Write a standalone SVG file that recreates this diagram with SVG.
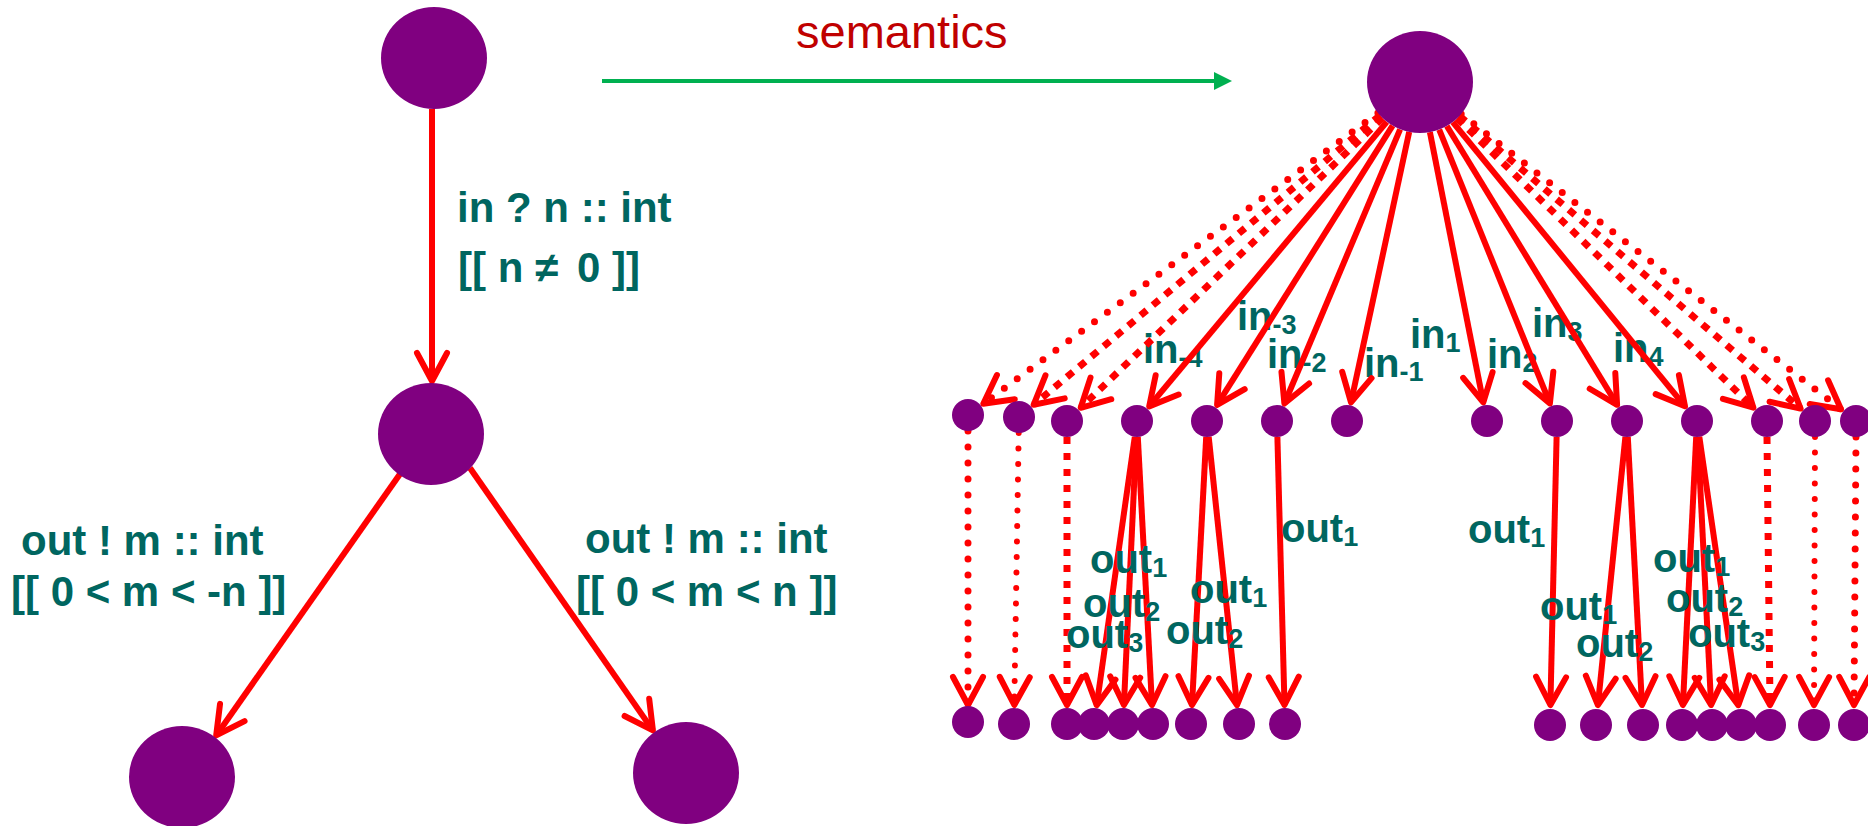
<svg xmlns="http://www.w3.org/2000/svg" width="1868" height="826" viewBox="0 0 1868 826">
<style>
.n{fill:#800080}
.e{stroke:#FF0000;stroke-width:6;fill:none;marker-end:url(#ah)}
.dot{stroke-dasharray:0 16;stroke-linecap:round;stroke-width:7}
.dot2{stroke-dasharray:0 15.5;stroke-linecap:round;stroke-width:6}
.dia{stroke-dasharray:8 8;stroke-width:7}
.sq{stroke-dasharray:7 9;stroke-width:7}
.lbl{font-family:"Liberation Sans",Arial,sans-serif;font-weight:bold;font-size:40px;fill:#006660}
.big{font-size:42px}
.sub{font-size:27px}
.sem{font-family:"Liberation Sans",Arial,sans-serif;font-size:47px;fill:#C00000}
</style>
<defs>
<marker id="ah" viewBox="-35 -20 40 40" refX="0" refY="0" markerWidth="40" markerHeight="40" markerUnits="userSpaceOnUse" orient="auto">
<path d="M-28,-15 L0,0 L-28,15" fill="none" stroke="#FF0000" stroke-width="6" stroke-linecap="round" stroke-linejoin="round"/>
</marker>
</defs>
<rect width="1868" height="826" fill="#FFFFFF"/>

<g id="semantics-arrow">
<line x1="602" y1="81" x2="1216" y2="81" stroke="#00B050" stroke-width="4"/>
<polygon points="1214,72 1232,81 1214,90" fill="#00B050"/>
<text class="sem" x="796" y="48">semantics</text>
</g>

<g id="in-labels">
<text class="lbl" x="1143" y="363">in<tspan class="sub" dy="4">-4</tspan></text>
<text class="lbl" x="1237" y="330">in<tspan class="sub" dy="4">-3</tspan></text>
<text class="lbl" x="1267" y="368">in<tspan class="sub" dy="4">-2</tspan></text>
<text class="lbl" x="1364" y="377">in<tspan class="sub" dy="4">-1</tspan></text>
<text class="lbl" x="1410" y="348">in<tspan class="sub" dy="4">1</tspan></text>
<text class="lbl" x="1487" y="368">in<tspan class="sub" dy="4">2</tspan></text>
<text class="lbl" x="1532" y="337">in<tspan class="sub" dy="4">3</tspan></text>
<text class="lbl" x="1613" y="362">in<tspan class="sub" dy="4">4</tspan></text>
</g>

<g id="connectors">
<line class="e" x1="432" y1="109" x2="432" y2="381"/>
<line class="e" x1="400" y1="474" x2="216.2" y2="735.4"/>
<line class="e" x1="470" y1="468" x2="652.9" y2="730.4"/>

<line class="e dot" x1="1377.9" y1="113" x2="983.3" y2="403.7"/>
<line class="e dia" x1="1380" y1="115.4" x2="1033.6" y2="404.8"/>
<line class="e dia" x1="1382.5" y1="118" x2="1080.7" y2="407.8"/>
<line class="e" x1="1386.8" y1="121.8" x2="1149.2" y2="406.4"/>
<line class="e" x1="1392.6" y1="125.6" x2="1217.1" y2="404.9"/>
<line class="e" x1="1400.1" y1="129.3" x2="1284.4" y2="403.5"/>
<line class="e" x1="1409.2" y1="131.9" x2="1351" y2="402.4"/>
<line class="e" x1="1429.9" y1="132.1" x2="1483.3" y2="402.4"/>
<line class="e" x1="1439.2" y1="129.6" x2="1549.9" y2="403.4"/>
<line class="e" x1="1446.8" y1="126" x2="1617.1" y2="404.8"/>
<line class="e" x1="1452.8" y1="122.1" x2="1685" y2="406.3"/>
<line class="e dia" x1="1457.2" y1="118.3" x2="1753.4" y2="407.7"/>
<line class="e dia" x1="1459.5" y1="115.9" x2="1800.6" y2="408.6"/>
<line class="e dot" x1="1461.2" y1="114" x2="1841" y2="409.3"/>

<line class="e dot" x1="968" y1="431" x2="968" y2="705"/>
<line class="e dot2" x1="1018.7" y1="433" x2="1014.3" y2="705"/>
<line class="e sq" x1="1067" y1="437" x2="1067" y2="705"/>
<line class="e sq" x1="1767" y1="437" x2="1770" y2="705"/>
<line class="e dot2" x1="1815" y1="437" x2="1814" y2="705"/>
<line class="e dot" x1="1856" y1="437" x2="1854" y2="705"/>

<line class="e" x1="1134.8" y1="436.8" x2="1096.7" y2="705.2"/>
<line class="e" x1="1136.3" y1="437" x2="1123.9" y2="705"/>
<line class="e" x1="1137.8" y1="437" x2="1152" y2="705"/>
<line class="e" x1="1206.2" y1="437" x2="1192" y2="705"/>
<line class="e" x1="1208.7" y1="436.9" x2="1237" y2="705.1"/>
<line class="e" x1="1277.4" y1="437" x2="1284.5" y2="705"/>
<line class="e" x1="1556.6" y1="437" x2="1550.4" y2="705"/>
<line class="e" x1="1625.4" y1="436.9" x2="1597.9" y2="705.1"/>
<line class="e" x1="1627.8" y1="437" x2="1642" y2="705"/>
<line class="e" x1="1696.2" y1="437" x2="1682.9" y2="705"/>
<line class="e" x1="1697.8" y1="437" x2="1711.1" y2="705"/>
<line class="e" x1="1699.3" y1="436.8" x2="1738.3" y2="705.2"/>
</g>

<g id="left-top"><ellipse class="n" cx="434" cy="58" rx="53" ry="51"/></g>
<g id="left-mid"><ellipse class="n" cx="431" cy="434" rx="53" ry="51"/></g>
<g id="left-bottom-l"><ellipse class="n" cx="182" cy="777" rx="53" ry="51"/></g>
<g id="left-bottom-r"><ellipse class="n" cx="686" cy="773" rx="53" ry="51"/></g>
<g id="right-top"><ellipse class="n" cx="1420" cy="82" rx="53" ry="51"/></g>

<g id="mid-1"><circle class="n" cx="968" cy="415" r="16"/></g>
<g id="mid-2"><circle class="n" cx="1019" cy="417" r="16"/></g>
<g id="mid-3"><circle class="n" cx="1067" cy="421" r="16"/></g>
<g id="mid-4"><circle class="n" cx="1137" cy="421" r="16"/></g>
<g id="mid-5"><circle class="n" cx="1207" cy="421" r="16"/></g>
<g id="mid-6"><circle class="n" cx="1277" cy="421" r="16"/></g>
<g id="mid-7"><circle class="n" cx="1347" cy="421" r="16"/></g>
<g id="mid-8"><circle class="n" cx="1487" cy="421" r="16"/></g>
<g id="mid-9"><circle class="n" cx="1557" cy="421" r="16"/></g>
<g id="mid-10"><circle class="n" cx="1627" cy="421" r="16"/></g>
<g id="mid-11"><circle class="n" cx="1697" cy="421" r="16"/></g>
<g id="mid-12"><circle class="n" cx="1767" cy="421" r="16"/></g>
<g id="mid-13"><circle class="n" cx="1815" cy="421" r="16"/></g>
<g id="mid-14"><circle class="n" cx="1856" cy="421" r="16"/></g>

<g id="bot-1"><circle class="n" cx="968" cy="722" r="16"/></g>
<g id="bot-2"><circle class="n" cx="1014" cy="724" r="16"/></g>
<g id="bot-3"><circle class="n" cx="1067" cy="724" r="16"/></g>
<g id="bot-4"><circle class="n" cx="1094" cy="724" r="16"/></g>
<g id="bot-5"><circle class="n" cx="1123" cy="724" r="16"/></g>
<g id="bot-6"><circle class="n" cx="1153" cy="724" r="16"/></g>
<g id="bot-7"><circle class="n" cx="1191" cy="724" r="16"/></g>
<g id="bot-8"><circle class="n" cx="1239" cy="724" r="16"/></g>
<g id="bot-9"><circle class="n" cx="1285" cy="724" r="16"/></g>
<g id="bot-10"><circle class="n" cx="1550" cy="725" r="16"/></g>
<g id="bot-11"><circle class="n" cx="1596" cy="725" r="16"/></g>
<g id="bot-12"><circle class="n" cx="1643" cy="725" r="16"/></g>
<g id="bot-13"><circle class="n" cx="1682" cy="725" r="16"/></g>
<g id="bot-14"><circle class="n" cx="1712" cy="725" r="16"/></g>
<g id="bot-15"><circle class="n" cx="1741" cy="725" r="16"/></g>
<g id="bot-16"><circle class="n" cx="1770" cy="725" r="16"/></g>
<g id="bot-17"><circle class="n" cx="1814" cy="725" r="16"/></g>
<g id="bot-18"><circle class="n" cx="1854" cy="725" r="16"/></g>

<g id="left-labels">
<text class="lbl big" x="457" y="222">in ? n :: int</text>
<text class="lbl big" x="458" y="282" xml:space="preserve">[[ n ≠  <tspan x="577">0 ]]</tspan></text>
<text class="lbl big" x="21" y="555">out ! m :: int</text>
<text class="lbl big" x="11" y="606">[[ 0 &lt; m &lt; -n ]]</text>
<text class="lbl big" x="585" y="553">out ! m :: int</text>
<text class="lbl big" x="576" y="606">[[ 0 &lt; m &lt; n ]]</text>
</g>

<g id="out-labels">
<text class="lbl" x="1090" y="573">out<tspan class="sub" dy="4">1</tspan></text>
<text class="lbl" x="1083" y="617">out<tspan class="sub" dy="4">2</tspan></text>
<text class="lbl" x="1066" y="648">out<tspan class="sub" dy="4">3</tspan></text>
<text class="lbl" x="1190" y="603">out<tspan class="sub" dy="4">1</tspan></text>
<text class="lbl" x="1166" y="644">out<tspan class="sub" dy="4">2</tspan></text>
<text class="lbl" x="1281" y="542">out<tspan class="sub" dy="4">1</tspan></text>
<text class="lbl" x="1468" y="543">out<tspan class="sub" dy="4">1</tspan></text>
<text class="lbl" x="1540" y="620">out<tspan class="sub" dy="4">1</tspan></text>
<text class="lbl" x="1576" y="657">out<tspan class="sub" dy="4">2</tspan></text>
<text class="lbl" x="1653" y="572">out<tspan class="sub" dy="4">1</tspan></text>
<text class="lbl" x="1666" y="612">out<tspan class="sub" dy="4">2</tspan></text>
<text class="lbl" x="1688" y="647">out<tspan class="sub" dy="4">3</tspan></text>
</g>
</svg>
